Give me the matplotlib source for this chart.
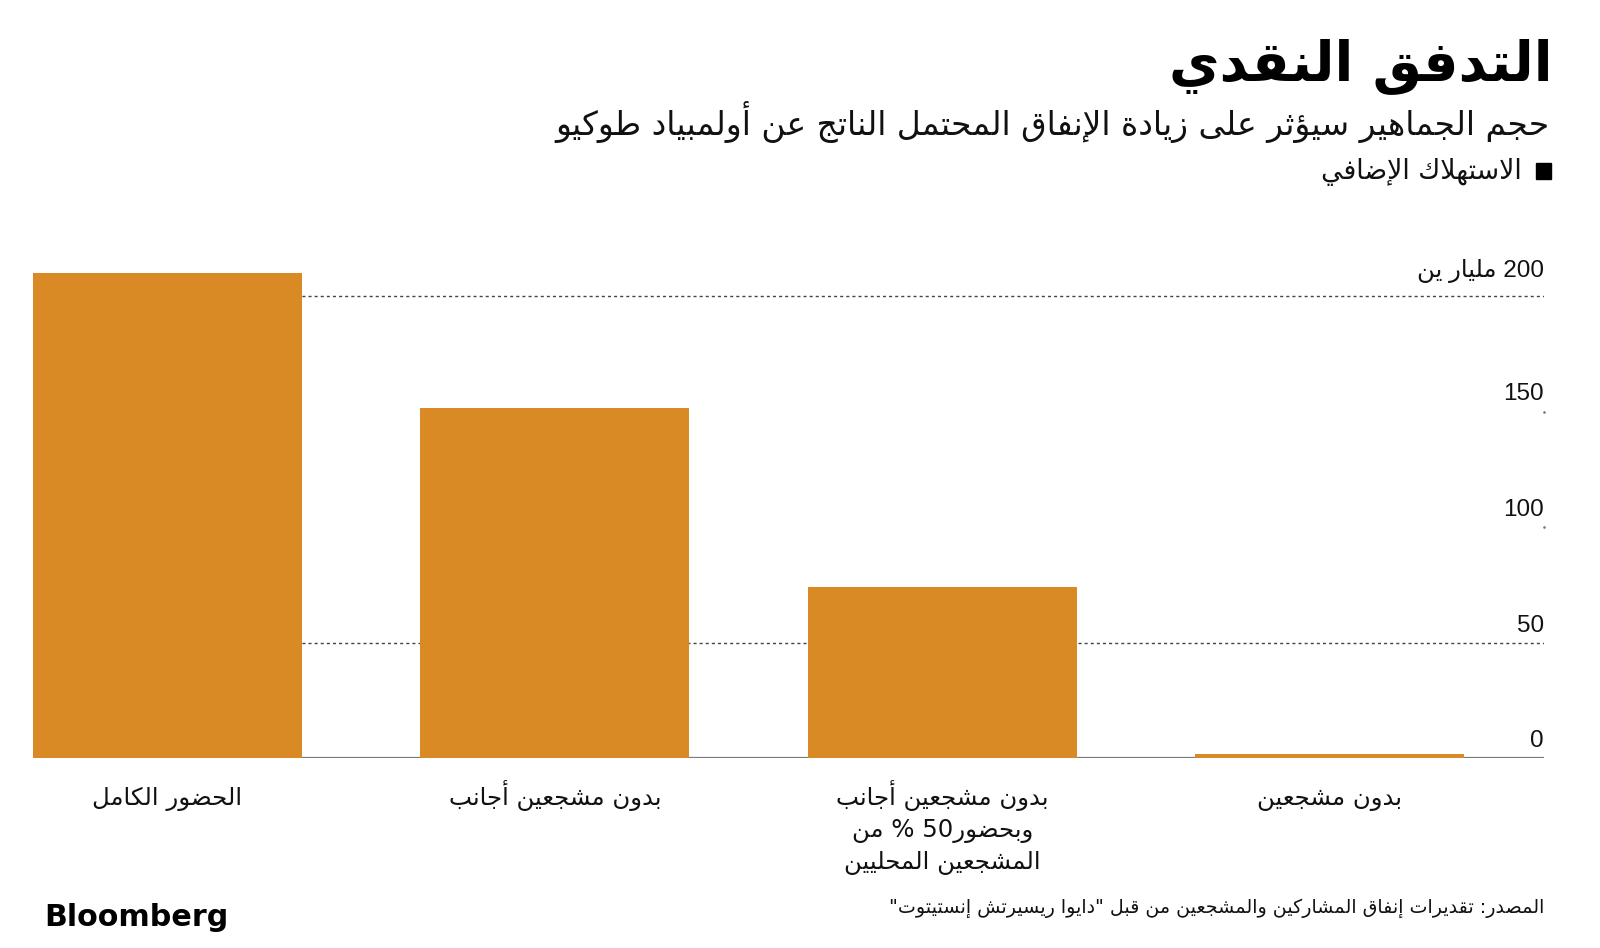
import re
import matplotlib
matplotlib.use("Agg")
import matplotlib.pyplot as plt
import matplotlib.transforms as mtransforms

# ---------------- data ----------------
title = "التدفق النقدي"
subtitle = "حجم الجماهير سيؤثر على زيادة الإنفاق المحتمل الناتج عن أولمبياد طوكيو"
legend_label = "الاستهلاك الإضافي"
categories = [
    "الحضور الكامل",
    "بدون مشجعين أجانب",
    "بدون مشجعين أجانب\nوبحضور50 % من\nالمشجعين المحليين",
    "بدون مشجعين",
]
values = [210.0, 151.5, 74.0, 1.8]
y_ticks = [0, 50, 100, 150, 200]
y_tick_labels = ["0", "50", "100", "150", "200 مليار ين"]
source = 'المصدر: تقديرات إنفاق المشاركين والمشجعين من قبل "دايوا ريسيرتش إنستيتوت"'
brand = "Bloomberg"

# ---------------- Arabic shaping helper ----------------
_AR = {}
for cp, start, n in [
    (0x0621, 0xFE80, 1), (0x0622, 0xFE81, 2), (0x0623, 0xFE83, 2), (0x0624, 0xFE85, 2),
    (0x0625, 0xFE87, 2), (0x0626, 0xFE89, 4), (0x0627, 0xFE8D, 2), (0x0628, 0xFE8F, 4),
    (0x0629, 0xFE93, 2), (0x062A, 0xFE95, 4), (0x062B, 0xFE99, 4), (0x062C, 0xFE9D, 4),
    (0x062D, 0xFEA1, 4), (0x062E, 0xFEA5, 4), (0x062F, 0xFEA9, 2), (0x0630, 0xFEAB, 2),
    (0x0631, 0xFEAD, 2), (0x0632, 0xFEAF, 2), (0x0633, 0xFEB1, 4), (0x0634, 0xFEB5, 4),
    (0x0635, 0xFEB9, 4), (0x0636, 0xFEBD, 4), (0x0637, 0xFEC1, 4), (0x0638, 0xFEC5, 4),
    (0x0639, 0xFEC9, 4), (0x063A, 0xFECD, 4), (0x0641, 0xFED1, 4), (0x0642, 0xFED5, 4),
    (0x0643, 0xFED9, 4), (0x0644, 0xFEDD, 4), (0x0645, 0xFEE1, 4), (0x0646, 0xFEE5, 4),
    (0x0647, 0xFEE9, 4), (0x0648, 0xFEED, 2), (0x0649, 0xFEEF, 2), (0x064A, 0xFEF1, 4),
]:
    forms = [chr(start + i) for i in range(n)] + [None] * (4 - n)
    _AR[chr(cp)] = forms

_LAM_ALEF = {
    "\u0622": ("\uFEF5", "\uFEF6"),
    "\u0623": ("\uFEF7", "\uFEF8"),
    "\u0625": ("\uFEF9", "\uFEFA"),
    "\u0627": ("\uFEFB", "\uFEFC"),
}


def _shape(s):
    units = []
    i = 0
    while i < len(s):
        c = s[i]
        if c == "\u0644" and i + 1 < len(s) and s[i + 1] in _LAM_ALEF:
            units.append(("LA", s[i + 1]))
            i += 2
        else:
            units.append(("C", c))
            i += 1
    out = []
    for k, (t, c) in enumerate(units):
        prev = units[k - 1] if k > 0 else None
        nxt = units[k + 1] if k + 1 < len(units) else None
        prev_joins = (prev is not None and prev[0] == "C" and prev[1] in _AR
                      and _AR[prev[1]][2] is not None)
        if t == "LA":
            out.append(_LAM_ALEF[c][1 if prev_joins else 0])
            continue
        if c not in _AR:
            out.append(c)
            continue
        f = _AR[c]
        pc = prev_joins and f[1] is not None
        nc = (nxt is not None and f[2] is not None and
              (nxt[0] == "LA" or (nxt[1] in _AR and _AR[nxt[1]][1] is not None)))
        if pc and nc:
            out.append(f[3])
        elif pc:
            out.append(f[1])
        elif nc:
            out.append(f[2])
        else:
            out.append(f[0])
    return "".join(out)


def ar(s):
    lines = []
    for line in s.split("\n"):
        v = _shape(line)[::-1]
        v = re.sub(r"[0-9]+", lambda m: m.group(0)[::-1], v)
        lines.append(v)
    return "\n".join(lines)


# ---------------- figure ----------------
AR_FONT = ["DejaVu Sans"]
NUM_FONT = ["Liberation Sans", "DejaVu Sans"]
BAR_COLOR = "#DA8A25"

W, H = 1600, 948
fig = plt.figure(figsize=(16, 9.48), dpi=100)
fig.patch.set_facecolor("white")

ax_left, ax_right, ax_bottom = 33, 1544, 758
ymax = 215
px_per_unit = 2.31
ax_h = ymax * px_per_unit
ax = fig.add_axes([ax_left / W, 1 - ax_bottom / H, (ax_right - ax_left) / W, ax_h / H])

x = list(range(len(values)))
ax.bar(x, values, width=0.694, color=BAR_COLOR, zorder=2)
ax.set_xlim(-0.347, 3.553)
ax.set_ylim(0, ymax)

for s in ax.spines.values():
    s.set_visible(False)
ax.set_xticks([])
ax.set_yticks([])

trans_y = mtransforms.blended_transform_factory(ax.transAxes, ax.transData)

# gridlines (dotted at 50 and 200), baseline at 0
for yv in y_ticks:
    if yv == 0:
        ax.axhline(yv, color="#7a7a7a", lw=1.6, zorder=1)
    elif yv in (50, 200):
        ax.axhline(yv, color="#444444", lw=1.0, ls=(0, (2.2, 2.2)), zorder=1)
    else:
        ax.plot([1.0], [yv], transform=trans_y, marker="s", ms=0.8,
                color="#777777", clip_on=False)

# y tick labels, right aligned above lines
for yv, lab in zip(y_ticks, y_tick_labels):
    lift = 19 if yv == 200 else 11
    off = mtransforms.ScaledTranslation(0, lift / 100, fig.dpi_scale_trans)
    ax.text(1.0, yv, ar(lab), transform=trans_y + off, ha="right", va="baseline",
            fontsize=17.5, family=NUM_FONT, color="#111111")

# category labels (one text per line, baseline aligned)
trans_x = mtransforms.blended_transform_factory(ax.transData, fig.transFigure)
first_baseline = 805
line_step = 32
for xi, cat in zip(x, categories):
    for li, line in enumerate(cat.split("\n")):
        yb = first_baseline + li * line_step
        ax.text(xi, 1 - yb / H, ar(line), transform=trans_x, ha="center",
                va="baseline", fontsize=17.6, family=AR_FONT, color="#111111")

# title and subtitle
fig.text(1553 / W, 1 - 66 / H, ar(title), ha="right", va="center", fontsize=39.7,
         fontweight="bold", family=AR_FONT, color="#000000")
fig.text(1550 / W, 1 - 122 / H, ar(subtitle), ha="right", va="center", fontsize=23.7,
         family=AR_FONT, color="#111111")

# legend
fig.patches.append(plt.Rectangle((1536 / W, 1 - 179 / H), 15 / W, 16 / H,
                                 transform=fig.transFigure, color="black"))
fig.text(1522 / W, 1 - 172 / H, ar(legend_label), ha="right", va="center", fontsize=19.3,
         family=AR_FONT, color="#111111")

# source and brand
fig.text(1544 / W, 1 - 908 / H, ar(source), ha="right", va="center", fontsize=13.7,
         family=AR_FONT, color="#111111")
fig.text(44 / W, 1 - 918 / H, brand, ha="left", va="center", fontsize=21.7,
         fontweight="bold", family=["DejaVu Sans"], color="#000000")

fig.savefig("out.png", dpi=100, facecolor="white")
